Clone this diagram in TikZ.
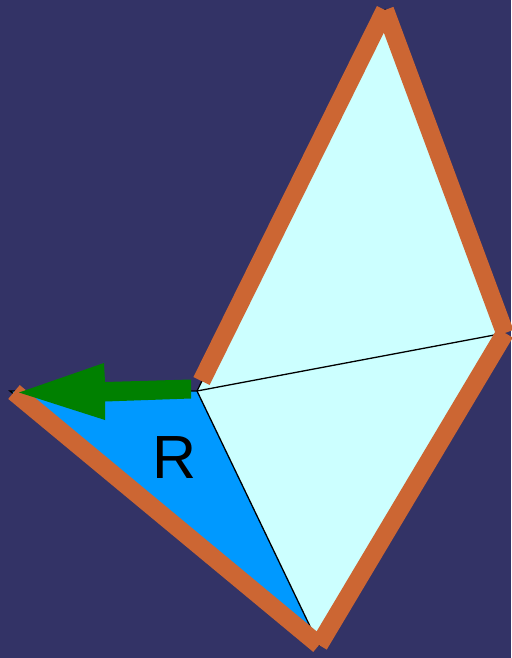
\documentclass[tikz,border=0pt]{standalone}
\usepackage{fontspec}
\setmainfont{Liberation Sans}
\definecolor{bgc}{HTML}{333366}
\definecolor{orng}{HTML}{CC6633}
\definecolor{lcyan}{HTML}{CCFFFF}
\definecolor{rblue}{HTML}{0099FF}
\definecolor{grn}{HTML}{008000}
\tikzset{
  edgeband/.style={draw=orng, line width=18pt, line cap=butt},
  thinline/.style={draw=black, line width=1.3pt},
}
\begin{document}
\begin{tikzpicture}[x=1pt,y=-1pt]
\fill[bgc] (0,0) rectangle (511,658);
\useasboundingbox (0,0) rectangle (511,658);
\coordinate (T) at (385,10);
\coordinate (Rt) at (505,333);
\coordinate (B) at (319,645);
\coordinate (L) at (10,391);
\coordinate (C) at (197,391);
\coordinate (Cend) at (201.5,381);
\coordinate (Lend) at (14,392);
% fills
\fill[lcyan] (T) -- (C) -- (Rt) -- cycle;
\fill[lcyan] (C) -- (Rt) -- (B) -- cycle;
\fill[rblue] (L) -- (C) -- (B) -- cycle;
% outlines
\draw[thinline, line join=miter] (L) -- (C) -- (T) -- (Rt) -- (B) -- cycle;
\draw[thinline] (C) -- (Rt);
\draw[thinline] (C) -- (B);
% orange bands
\draw[edgeband] (T) -- (Cend);
\draw[edgeband] (T) -- (Rt);
\draw[edgeband] (Rt) -- (B);
\draw[edgeband] (B) -- (Lend);
% green arrow
\fill[grn] (191,379.5) -- (105,382) -- (104,363) -- (19,392.5) -- (105,420) -- (105,401.5) -- (191,398.5) -- cycle;
% label
\node[font=\fontsize{61}{61}\selectfont, text=black, inner sep=0pt] (lbl) at (175,458) {R};
\end{tikzpicture}
\end{document}
